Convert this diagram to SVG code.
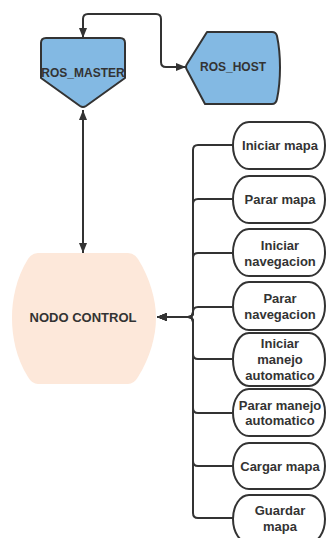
<svg xmlns="http://www.w3.org/2000/svg" width="327" height="538" viewBox="0 0 327 538">
<style>
.ln{fill:none;stroke:#333;stroke-width:2;stroke-linejoin:round}
.bx{fill:#fff;stroke:#333;stroke-width:2}
.blue{fill:#83b9e3;stroke:#333;stroke-width:2;stroke-linejoin:round}
.t{font-family:"Liberation Sans",Arial,sans-serif;font-weight:bold;font-size:13px;fill:#333;text-anchor:middle}
.t12{font-size:12px}
</style>
<defs>
<marker id="arr" viewBox="0 0 10 8" refX="10" refY="4" markerWidth="10" markerHeight="8" markerUnits="userSpaceOnUse" orient="auto-start-reverse">
<path d="M0,0 L10,4 L0,8 Z" fill="#333"/>
</marker>
</defs>
<rect width="327" height="538" fill="#fff"/>
<g id="connectors">
<path class="ln" d="M83,38 V19 Q83,14 88,14 H156 Q161,14 161,19 V62 Q161,67 166,67 H186" marker-start="url(#arr)" marker-end="url(#arr)"/>
<path class="ln" d="M83,110 V253" marker-start="url(#arr)" marker-end="url(#arr)"/>
<path class="ln" d="M233,145 H198 Q193,145 193,150 V312 Q193,317 188,317 H157" marker-end="url(#arr)"/>
<path class="ln" d="M233,199 H198 Q193,199 193,204 V312 Q193,317 188,317 H157" marker-end="url(#arr)"/>
<path class="ln" d="M233,253 H198 Q193,253 193,258 V312 Q193,317 188,317 H157" marker-end="url(#arr)"/>
<path class="ln" d="M233,307 H198 Q193,307 193,312 Q193,317 188,317 H157" marker-end="url(#arr)"/>
<path class="ln" d="M233,359 H198 Q193,359 193,354 V322 Q193,317 188,317 H157" marker-end="url(#arr)"/>
<path class="ln" d="M233,413 H198 Q193,413 193,408 V322 Q193,317 188,317 H157" marker-end="url(#arr)"/>
<path class="ln" d="M233,466 H198 Q193,466 193,461 V322 Q193,317 188,317 H157" marker-end="url(#arr)"/>
<path class="ln" d="M233,518 H198 Q193,518 193,513 V322 Q193,317 188,317 H157" marker-end="url(#arr)"/>
</g>
<g id="ros_master">
<path class="blue" d="M46,38 H120 Q125,38 125,43 V78 L86,106 Q83,108 80,106 L41,78 V43 Q41,38 46,38 Z"/>
<text class="t t12" x="83" y="77">ROS_MASTER</text>
</g>
<g id="ros_host">
<path class="blue" d="M207,32 H272 Q276,32 277,36 C281,55 281,80 277,99 Q276,104 272,104 H205 L187,70 Q185,67 187,64 Z"/>
<text class="t t12" x="233" y="71">ROS_HOST</text>
</g>
<g id="nodo_control">
<path fill="#fde8da" d="M38,253 H128 Q134,253 138,259 C150,278 156,300 156,318 C156,336 150,358 138,377 Q134,384 128,384 H38 Q32,384 28,377 C16,358 12,336 12,318 C12,300 16,278 28,259 Q32,253 38,253 Z"/>
<text class="t" x="83" y="322">NODO CONTROL</text>
</g>
<g id="iniciar_mapa">
<rect class="bx" x="233" y="122" width="92" height="47" rx="16" ry="23"/>
<text class="t" x="280" y="150">Iniciar mapa</text>
</g>
<g id="parar_mapa">
<rect class="bx" x="233" y="176" width="92" height="47" rx="16" ry="23"/>
<text class="t" x="280" y="204">Parar mapa</text>
</g>
<g id="iniciar_navegacion">
<rect class="bx" x="233" y="229" width="92" height="47" rx="16" ry="23"/>
<text class="t" x="280" y="250">Iniciar</text>
<text class="t" x="280" y="266">navegacion</text>
</g>
<g id="parar_navegacion">
<rect class="bx" x="233" y="282" width="92" height="48" rx="16" ry="24"/>
<text class="t" x="280" y="303">Parar</text>
<text class="t" x="280" y="319">navegacion</text>
</g>
<g id="iniciar_manejo">
<rect class="bx" x="233" y="333" width="92" height="53" rx="16" ry="26"/>
<text class="t" x="280" y="348">Iniciar</text>
<text class="t" x="280" y="364">manejo</text>
<text class="t" x="280" y="380">automatico</text>
</g>
<g id="parar_manejo">
<rect class="bx" x="233" y="389" width="92" height="47" rx="16" ry="23"/>
<text class="t" x="280" y="410">Parar manejo</text>
<text class="t" x="280" y="425">automatico</text>
</g>
<g id="cargar_mapa">
<rect class="bx" x="233" y="443" width="92" height="46" rx="16" ry="23"/>
<text class="t" x="280" y="471">Cargar mapa</text>
</g>
<g id="guardar_mapa">
<rect class="bx" x="233" y="495" width="92" height="48" rx="16" ry="24"/>
<text class="t" x="280" y="515">Guardar</text>
<text class="t" x="280" y="531">mapa</text>
</g>
</svg>
